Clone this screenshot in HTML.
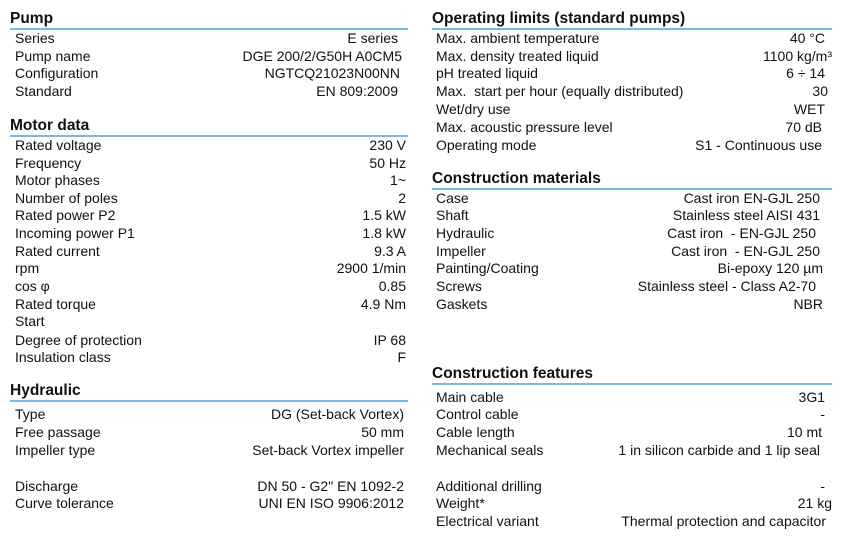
<!DOCTYPE html>
<html><head><meta charset="utf-8"><style>
body{margin:0;width:849px;height:554px;background:#fff;position:relative;overflow:hidden;font-family:"Liberation Sans",Arial,sans-serif;color:#111}
.h{position:absolute;font-weight:bold;font-size:15.5px;line-height:18px}
.ln{position:absolute;height:2px;background:#7db7e8}
.l,.v{position:absolute;font-size:14px;line-height:16px;white-space:nowrap}
.v{text-align:right}
</style></head><body>
<script>
function H(x,y,t,w){document.write('<div class="h" style="left:'+x+'px;top:'+(y-7)+'px">'+t+'</div><div class="ln" style="left:'+x+'px;top:'+(y+11)+'px;width:'+w+'px"></div>');}
function R(x,r,y,a,b){document.write('<div class="l" style="left:'+x+'px;top:'+(y-8)+'px">'+a+'</div><div class="v" style="right:'+(849-r)+'px;top:'+(y-8)+'px">'+b+'</div>');}
H(10,17,'Pump',398);
[[38,'Series','E series',398],[56,'Pump name','DGE 200/2/G50H A0CM5',402],[73,'Configuration','NGTCQ21023N00NN',400],[91,'Standard','EN 809:2009',398]].forEach(a=>R(15,a[3],a[0],a[1],a[2]));
H(10,124,'Motor data',398);
[[145,'Rated voltage','230 V'],[163,'Frequency','50 Hz'],[180,'Motor phases','1~'],[198,'Number of poles','2'],[215,'Rated power P2','1.5 kW'],[233,'Incoming power P1','1.8 kW'],[251,'Rated current','9.3 A'],[268,'rpm','2900 1/min'],[286,'cos φ','0.85'],[304,'Rated torque','4.9 Nm'],[321,'Start',''],[340,'Degree of protection','IP 68'],[357,'Insulation class','F']].forEach(a=>R(15,406,a[0],a[1],a[2]));
H(10,389,'Hydraulic',398);
[[414,'Type','DG (Set-back Vortex)'],[432,'Free passage','50 mm'],[450,'Impeller type','Set-back Vortex impeller'],[486,'Discharge','DN 50 - G2" EN 1092-2'],[503,'Curve tolerance','UNI EN ISO 9906:2012']].forEach(a=>R(15,404,a[0],a[1],a[2]));
H(432,17,'Operating limits (standard pumps)',400);
[[38,'Max. ambient temperature','40 °C',825],[56,'Max. density treated liquid','1100 kg/m³',832],[73,'pH treated liquid','6 ÷ 14',825],[91,'Max.&nbsp; start per hour (equally distributed)','30',828],[109,'Wet/dry use','WET',825],[127,'Max. acoustic pressure level','70 dB',822],[145,'Operating mode','S1 - Continuous use',822]].forEach(a=>R(436,a[3],a[0],a[1],a[2]));
H(432,177,'Construction materials',400);
[[198,'Case','Cast iron EN-GJL 250',820],[215,'Shaft','Stainless steel AISI 431',820],[233,'Hydraulic','Cast iron&nbsp; - EN-GJL 250',816],[251,'Impeller','Cast iron&nbsp; - EN-GJL 250',820],[268,'Painting/Coating','Bi-epoxy 120 µm',823],[286,'Screws','Stainless steel - Class A2-70',816],[304,'Gaskets','NBR',823]].forEach(a=>R(436,a[3],a[0],a[1],a[2]));
H(432,372,'Construction features',400);
[[397,'Main cable','3G1',825],[414,'Control cable','-',825],[432,'Cable length','10 mt',822],[450,'Mechanical seals','1 in silicon carbide and 1 lip seal',820],[486,'Additional drilling','-',825],[503,'Weight*','21 kg',832],[521,'Electrical variant','Thermal protection and capacitor',826]].forEach(a=>R(436,a[3],a[0],a[1],a[2]));
</script>
</body></html>
